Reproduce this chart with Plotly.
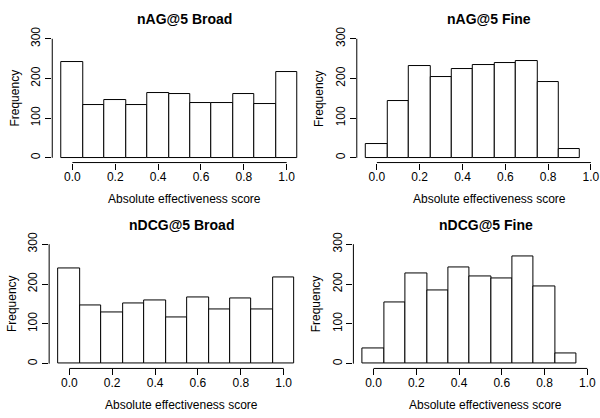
import plotly.graph_objects as go

W, H = 600, 418

# ---- data ----
centers_broad = [0.0, 0.1, 0.2, 0.3, 0.4, 0.5, 0.6, 0.7, 0.8, 0.9, 1.0]
centers_fine = [0.0, 0.1, 0.2, 0.3, 0.4, 0.5, 0.6, 0.7, 0.8, 0.9]
nag_broad = [242, 134, 145, 133, 164, 160, 137, 137, 160, 136, 217]
nag_fine = [35, 143, 232, 204, 223, 233, 240, 245, 190, 23]
ndcg_broad = [240, 147, 129, 151, 158, 117, 167, 136, 164, 136, 216]
ndcg_fine = [37, 155, 226, 185, 242, 218, 214, 269, 193, 25]
titles = ["nAG@5 Broad", "nAG@5 Fine", "nDCG@5 Broad", "nDCG@5 Fine"]
x_ticks = [0.0, 0.2, 0.4, 0.6, 0.8, 1.0]
x_tick_text = ["0.0", "0.2", "0.4", "0.6", "0.8", "1.0"]
y_ticks = [0, 100, 200, 300]
y_tick_text = ["0", "100", "200", "300"]
x_title = "Absolute effectiveness score"
y_title = "Frequency"

FONT = "Liberation Sans, Arial, Helvetica, sans-serif"

# panel geometry in pixels: x of value 0, px per unit, top/bottom of plot region
panels = [
    dict(x0=72.4, sx=214.3, top=27.5, bot=158.2),
    dict(x0=376.9, sx=214.0, top=27.5, bot=158.2),
    dict(x0=69.3, sx=214.4, top=236.4, bot=367.6),
    dict(x0=373.5, sx=213.8, top=236.4, bot=367.6),
]
series = [(centers_broad, nag_broad), (centers_fine, nag_fine),
          (centers_broad, ndcg_broad), (centers_fine, ndcg_fine)]

XLO = -0.094
YLO, YHI = -12, 312

fig = go.Figure()
layout = dict(
    width=W, height=H, margin=dict(l=0, r=0, t=0, b=0),
    paper_bgcolor="white", plot_bgcolor="white",
    showlegend=False, bargap=0,
    font=dict(family=FONT, size=12, color="black"),
)
annotations = []
shapes = []

for i, (p, (cx, cy)) in enumerate(zip(panels, series)):
    k = "" if i == 0 else str(i + 1)
    left = p["x0"] + XLO * p["sx"]
    right_full = p["x0"] + (1.05 - XLO) * p["sx"]
    right = min(W, right_full)
    xhi = (right - p["x0"]) / p["sx"]
    layout["xaxis" + k] = dict(
        domain=[left / W, right / W], range=[XLO, xhi], anchor="y" + k,
        showgrid=False, zeroline=False, showline=False,
        ticks="outside", ticklen=6, tickwidth=1, tickcolor="black",
        tickvals=x_ticks, ticktext=x_tick_text, ticklabelstandoff=-3,
        tickfont=dict(size=12, family=FONT, color="black"),
        fixedrange=True,
    )
    layout["yaxis" + k] = dict(
        domain=[1 - p["bot"] / H, 1 - p["top"] / H], range=[YLO, YHI],
        anchor="x" + k,
        showgrid=False, zeroline=False, showline=False,
        ticks="outside", ticklen=6, tickwidth=1, tickcolor="black",
        tickvals=y_ticks, ticktext=y_tick_text, tickangle=-90,
        tickfont=dict(size=12, family=FONT, color="black"),
        fixedrange=True,
    )
    fig.add_trace(go.Bar(
        x=cx, y=cy, width=0.1, xaxis="x" + k, yaxis="y" + k,
        marker=dict(color="white", line=dict(color="black", width=1)),
        hoverinfo="x+y",
    ))
    # R-style axis lines spanning first to last tick
    shapes.append(dict(type="line", xref="x" + k, yref="y" + k + " domain",
                       x0=x_ticks[0], x1=x_ticks[-1], y0=0, y1=0,
                       line=dict(color="black", width=1)))
    shapes.append(dict(type="line", xref="x" + k + " domain", yref="y" + k,
                       x0=0, x1=0, y0=y_ticks[0], y1=y_ticks[-1],
                       line=dict(color="black", width=1)))
    cxp = (left + right_full) / 2
    annotations.append(dict(text="<b>" + titles[i] + "</b>", xref="paper", yref="paper",
                            x=cxp / W, y=1 - (p["top"] - 14.8) / H,
                            xanchor="center", yanchor="middle", showarrow=False,
                            font=dict(size=14, family=FONT, color="black")))
    annotations.append(dict(text=x_title, xref="paper", yref="paper",
                            x=cxp / W, y=1 - (p["bot"] + 37.5) / H,
                            xanchor="center", yanchor="middle", showarrow=False,
                            font=dict(size=12, family=FONT, color="black")))
    annotations.append(dict(text=y_title, xref="paper", yref="paper",
                            x=(left - 37) / W, y=1 - ((p["top"] + p["bot"]) / 2) / H,
                            xanchor="center", yanchor="middle", textangle=-90,
                            showarrow=False,
                            font=dict(size=12, family=FONT, color="black")))

layout["annotations"] = annotations
layout["shapes"] = shapes
fig.update_layout(**layout)
fig.write_html(
    "out.html",
    config={"displayModeBar": False},
    post_script="document.body.style.margin='0';document.documentElement.style.overflow='hidden';",
)
